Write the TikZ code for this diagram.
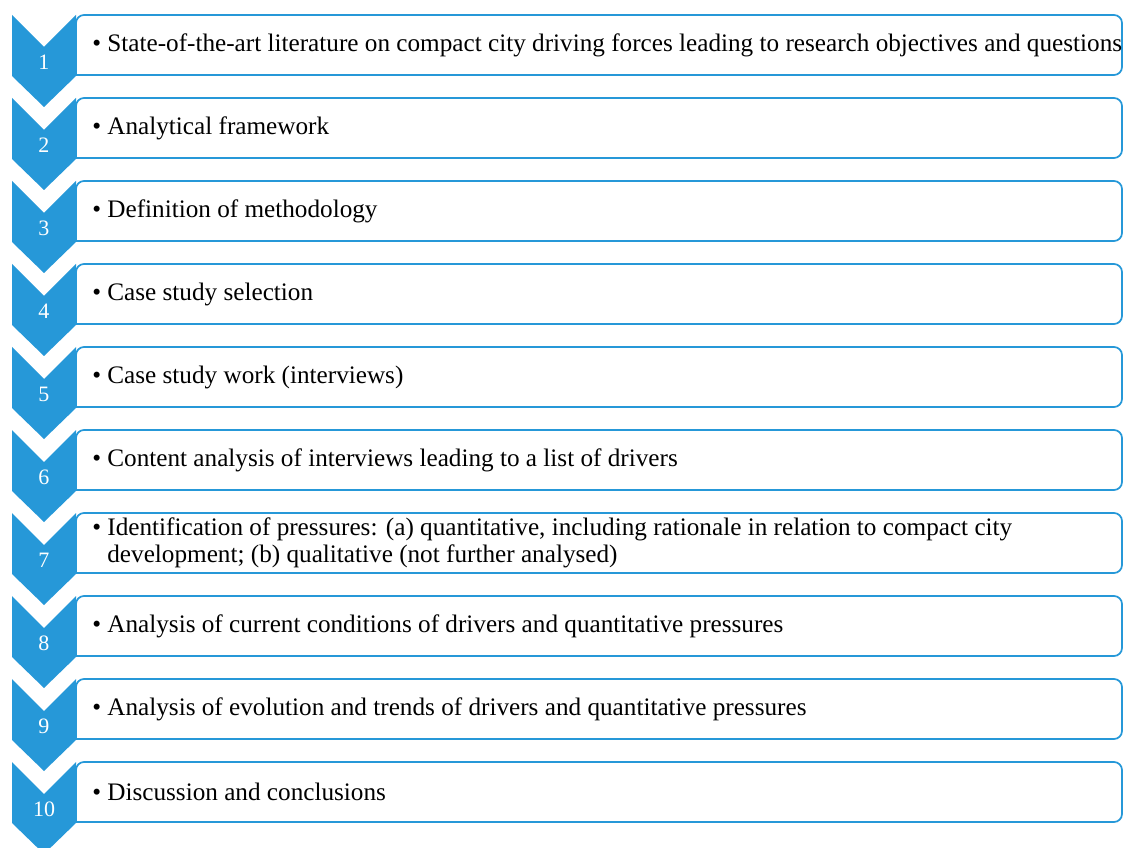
\documentclass[tikz,border=0pt]{standalone}
\usepackage{fontspec}
\setmainfont{Liberation Serif}
\definecolor{stepblue}{RGB}{38,152,216}
\begin{document}
\begin{tikzpicture}[x=0.75pt,y=-0.75pt,
  chev/.style={fill=stepblue,draw=none},
  numlbl/.style={text=white,font=\fontsize{16.5pt}{18pt}\selectfont,inner sep=0pt},
  boxline/.style={draw=stepblue,line width=1.3pt,rounded corners=6pt},
  steptext/.style={anchor=west,inner sep=0pt,align=left,font=\fontsize{18.9pt}{20.25pt}\selectfont}]
\useasboundingbox (0,0) rectangle (1124,848);
\foreach \i/\txt in {
 1/{\textbullet\ State-of-the-art literature on compact city driving forces leading to research objectives and questions},
 2/{\textbullet\ Analytical framework},
 3/{\textbullet\ Definition of methodology},
 4/{\textbullet\ Case study selection},
 5/{\textbullet\ Case study work (interviews)},
 6/{\textbullet\ Content analysis of interviews leading to a list of drivers},
 7/{\textbullet\ Identification of pressures: (a) quantitative, including rationale in relation to compact city\\\hphantom{\textbullet\ }development; (b) qualitative (not further analysed)},
 8/{\textbullet\ Analysis of current conditions of drivers and quantitative pressures},
 9/{\textbullet\ Analysis of evolution and trends of drivers and quantitative pressures},
 10/{\textbullet\ Discussion and conclusions}}
{
  \pgfmathsetmacro{\t}{15+83*(\i-1)}
  \draw[boxline] (76,\t+60) -- (76,\t) -- (1122,\t) -- (1122,\t+60) -- (76,\t+60);
  \fill[chev] (12,\t) -- (44,\t+32) -- (76,\t) -- (76,\t+61) -- (44,\t+92) -- (12,\t+61) -- cycle;
  \node[numlbl] (n\i) at (44,\t+47) {\i};
  \node[steptext] (s\i) at (92,\t+30) {\txt};
}
\end{tikzpicture}
\end{document}
